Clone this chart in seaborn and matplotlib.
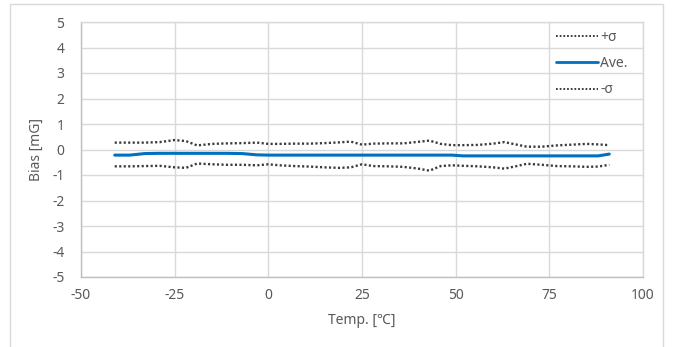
import matplotlib
matplotlib.use("Agg")
import matplotlib.pyplot as plt
import seaborn as sns
import pandas as pd
from matplotlib.patches import Rectangle

temps = [-41, -37, -33, -29, -25, -22, -19, -15, -11, -7, -3, 0, 3, 7, 11, 15, 19, 22,
         25, 28, 32, 36, 40, 43, 46, 49, 52, 56, 60, 63, 66, 69, 73, 77, 81, 85, 88, 91]
plus_sigma = [0.27, 0.27, 0.27, 0.29, 0.37, 0.33, 0.16, 0.22, 0.24, 0.25, 0.27, 0.22, 0.22,
              0.23, 0.23, 0.25, 0.28, 0.31, 0.19, 0.23, 0.24, 0.24, 0.30, 0.35, 0.22, 0.17,
              0.17, 0.18, 0.23, 0.29, 0.20, 0.11, 0.11, 0.16, 0.19, 0.22, 0.20, 0.17]
average = [-0.22, -0.22, -0.16, -0.15, -0.15, -0.15, -0.15, -0.15, -0.15, -0.16, -0.21, -0.22,
           -0.22, -0.22, -0.22, -0.22, -0.22, -0.22, -0.22, -0.22, -0.22, -0.22, -0.22, -0.22,
           -0.22, -0.22, -0.25, -0.25, -0.25, -0.25, -0.25, -0.25, -0.25, -0.25, -0.25, -0.25,
           -0.25, -0.18]
minus_sigma = [-0.66, -0.66, -0.65, -0.64, -0.70, -0.72, -0.55, -0.58, -0.60, -0.60, -0.62,
               -0.58, -0.62, -0.65, -0.67, -0.70, -0.72, -0.70, -0.58, -0.65, -0.66, -0.68,
               -0.75, -0.83, -0.65, -0.62, -0.64, -0.66, -0.70, -0.75, -0.66, -0.56, -0.60,
               -0.65, -0.66, -0.68, -0.67, -0.60]
series_labels = ["+σ", "Ave.", "-σ"]
x_ticks = [-50, -25, 0, 25, 50, 75, 100]
y_ticks = [-5, -4, -3, -2, -1, 0, 1, 2, 3, 4, 5]
x_label = "Temp. [℃]"
y_label = "Bias [mG]"

sns.set_theme(style="white")
plt.rcParams["font.family"] = ["Noto Sans", "Noto Sans CJK JP", "DejaVu Sans"]
plt.rcParams["axes.unicode_minus"] = False

df = pd.DataFrame({"temp": temps, "plus": plus_sigma, "ave": average, "minus": minus_sigma})

fig = plt.figure(figsize=(6.75, 3.47), dpi=100)
fig.patches.append(Rectangle((10 / 675, -0.05), 653 / 675, 1 - 4 / 347 + 0.05,
                             transform=fig.transFigure, fill=False,
                             edgecolor="#d9d9d9", linewidth=1.0))
ax = fig.add_axes([81 / 675, 1 - 277 / 347, (643 - 81) / 675, (277 - 22) / 347])

dot_color = "#3a3a3a"
sns.lineplot(data=df, x="temp", y="plus", ax=ax, color=dot_color, linewidth=1.7,
             linestyle=(0, (0.9, 1.0)), label=series_labels[0])
sns.lineplot(data=df, x="temp", y="ave", ax=ax, color="#0070C0", linewidth=2.2,
             label=series_labels[1])
sns.lineplot(data=df, x="temp", y="minus", ax=ax, color=dot_color, linewidth=1.7,
             linestyle=(0, (0.9, 1.0)), label=series_labels[2])

ax.set_xlim(-50, 100)
ax.set_ylim(-5, 5)
ax.set_xticks(x_ticks)
ax.set_yticks(y_ticks)
ax.set_xticklabels([str(v) for v in x_ticks])
ax.set_yticklabels([str(v) for v in y_ticks])
ax.grid(True, color="#d9d9d9", linewidth=1.0)
ax.set_axisbelow(True)
for s in ax.spines.values():
    s.set_color("#d9d9d9")
    s.set_linewidth(1.0)
ax.spines["left"].set_color("#bfbfbf")
ax.spines["bottom"].set_color("#bfbfbf")
ax.tick_params(axis="both", length=0, labelsize=10, colors="#595959")
ax.tick_params(axis="x", pad=8)
ax.tick_params(axis="y", pad=12)
ax.set_xlabel(x_label, fontsize=10, color="#595959", labelpad=7)
ax.set_ylabel(y_label, fontsize=10, color="#595959", labelpad=6)

leg = ax.legend(loc="upper right", bbox_to_anchor=(0.985, 0.995), frameon=False,
                fontsize=10, handlelength=3.0, handletextpad=0.15, labelspacing=0.8,
                borderaxespad=0.1)
for t in leg.get_texts():
    t.set_color("#595959")
for h in leg.get_lines():
    h.set_linewidth(1.4 if h.get_color() == dot_color else 2.0)

fig.savefig("out.png", dpi=100)
